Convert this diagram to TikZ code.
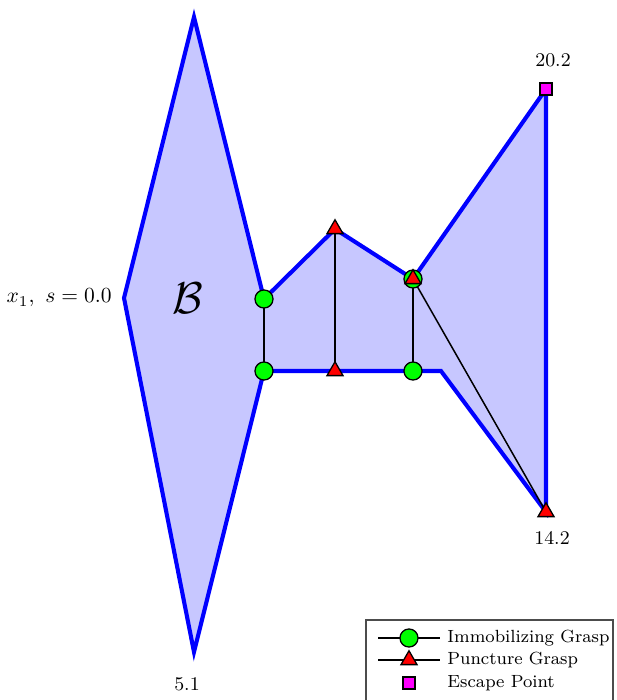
\documentclass[tikz,border=0pt]{standalone}
\usetikzlibrary{shapes.geometric,positioning}
\definecolor{escmag}{RGB}{255,0,255}
\begin{document}
\begin{tikzpicture}[x=0.465pt,y=-0.465pt,
    body/.style={draw=blue,line width=1.9pt,fill=blue!22,line join=miter},
    link/.style={draw=black,line width=0.7pt},
    immob/.style={circle,draw=black,fill=green,line width=0.6pt,inner sep=0pt,minimum size=8.4pt},
    punct/.style={regular polygon,regular polygon sides=3,draw=black,fill=red,line width=0.6pt,inner sep=0pt,minimum size=8.6pt},
    escpt/.style={rectangle,draw=black,fill=escmag,line width=0.6pt,inner sep=0pt,minimum size=5.6pt},
    numlbl/.style={inner sep=0pt,font=\fontsize{9}{11}\selectfont},
    legtxt/.style={anchor=west,inner sep=0pt,font=\fontsize{8.2}{10}\selectfont}]
    \clip (0,0) rectangle (616,700);
    \coordinate (vl) at (124,298);
    \coordinate (vt) at (194,17);
    \coordinate (c1) at (264,299);
    \coordinate (p1) at (335,229);
    \coordinate (c2) at (413,279);
    \coordinate (ve) at (546,89);
    \coordinate (vf) at (546,512);
    \coordinate (vk) at (441,371);
    \coordinate (c3) at (413,371);
    \coordinate (p2) at (335,371);
    \coordinate (c4) at (264,371);
    \coordinate (vb) at (194,652);
    \draw[body] (vl) -- (vt) -- (c1) -- (p1) -- (c2) -- (ve) -- (vf) -- (vk)
        -- (c3) -- (p2) -- (c4) -- (vb) -- cycle;
    \draw[link] (c1) -- (c4);
    \draw[link] (p1) -- (p2);
    \draw[link] (c2) -- (c3);
    \draw[link] (c2) -- (vf);
    \node[immob] (g1) at (c1) {};
    \node[immob] (g2) at (c4) {};
    \node[immob] (g3) at (c3) {};
    \node[immob] (g4) at (c2) {};
    \node[punct] (t1) at (p1) {};
    \node[punct] (t2) at (p2) {};
    \node[punct] (t3) at (c2) {};
    \node[punct] (t4) at (vf) {};
    \node[escpt] (esc) at (ve) {};
    \node[anchor=east,inner sep=0pt] (lx) at (112,298) {$x_1,\ s=0.0$};
    \node (lb) at (188,298) {\huge$\mathcal{B}$};
    \node[numlbl] (l20) at (553,60) {20.2};
    \node[numlbl] (l14) at (552,538) {14.2};
    \node[numlbl] (l5) at (187,684) {5.1};
    \draw[draw=black!70,fill=white,line width=0.5pt] (366,620) rectangle (613,720);
    \coordinate (a1) at (378,638);
    \coordinate (b1) at (440,638);
    \coordinate (a2) at (378,660);
    \coordinate (b2) at (440,660);
    \draw[link] (a1) -- (b1);
    \draw[link] (a2) -- (b2);
    \node[immob] (k1) at (409,638) {};
    \node[punct] (k2) at (409,660) {};
    \node[escpt] (k3) at (409,683) {};
    \node[legtxt] (e1) at (447,638) {Immobilizing Grasp};
    \node[legtxt] (e2) at (447,660) {Puncture Grasp};
    \node[legtxt] (e3) at (447,683) {Escape Point};
\end{tikzpicture}
\end{document}
